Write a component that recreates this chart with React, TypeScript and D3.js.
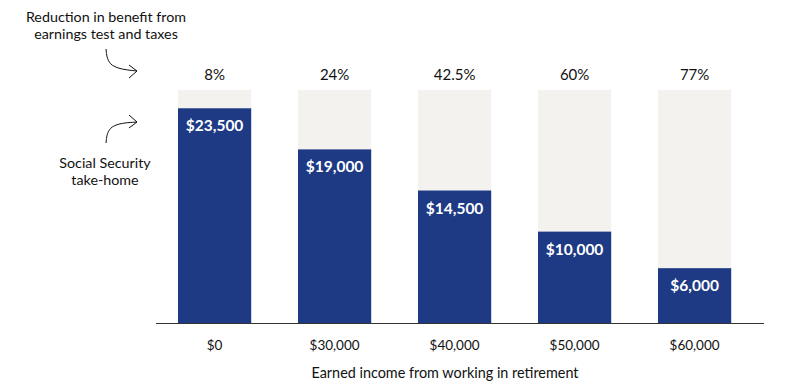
import * as d3 from 'd3';

const incomes = ['$0', '$30,000', '$40,000', '$50,000', '$60,000'];
const takeHome = [23500, 19000, 14500, 10000, 6000];
const reductions = ['8%', '24%', '42.5%', '60%', '77%'];
const fullBenefit = 25500;

const W = 800;
const H = 390;
const font = 'Lato, "Open Sans", sans-serif';
const blue = '#1e3a84';
const grey = '#f3f2ef';

export default function App() {
  const x = d3.scaleBand<string>()
    .domain(incomes)
    .range([154, 755.2])
    .paddingInner(0.39)
    .paddingOuter(0.2);

  const y = d3.scaleLinear()
    .domain([0, fullBenefit])
    .range([323, 90]);

  const curveDown = d3.line().curve(d3.curveBasis)([[106, 49], [108, 68], [137, 71]]);
  const curveUp = d3.line().curve(d3.curveBasis)([[106, 143], [108, 124], [137, 122]]);

  return (
    <svg width={W} height={H} style={{ position: 'absolute', left: 0, top: 0 }} fontFamily={font}>
      <rect width={W} height={H} fill="#fff" />

      {incomes.map((c, i) => (
        <g key={c}>
          <rect x={x(c)} y={y(fullBenefit)} width={x.bandwidth()} height={y(0) - y(fullBenefit)} fill={grey} />
          <rect x={x(c)} y={y(takeHome[i])} width={x.bandwidth()} height={y(0) - y(takeHome[i])} fill={blue} />
          <text x={x(c)! + x.bandwidth() / 2} y={y(takeHome[i]) + 23} textAnchor="middle"
            fill="#fff" fontSize={15.5} fontWeight={700}>
            {'$' + d3.format(',')(takeHome[i])}
          </text>
          <text x={x(c)! + x.bandwidth() / 2} y={80} textAnchor="middle" fill="#111" fontSize={15}>
            {reductions[i]}
          </text>
          <text x={x(c)! + x.bandwidth() / 2} y={350} textAnchor="middle" fill="#111" fontSize={13.5}>
            {c}
          </text>
        </g>
      ))}

      <line x1={156} x2={764} y1={323.5} y2={323.5} stroke="#333" strokeWidth={1} />

      <text x={445} y={378} textAnchor="middle" fill="#111" fontSize={14.4}>
        Earned income from working in retirement
      </text>

      <g fill="#111" fontSize={14.3} textAnchor="middle">
        <text x={106} y={22}>Reduction in benefit from</text>
        <text x={106} y={39}>earnings test and taxes</text>
        <text x={105} y={168}>Social Security</text>
        <text x={105} y={185}>take-home</text>
      </g>

      <g fill="none" stroke="#111" strokeWidth={1}>
        <path d={curveDown!} />
        <polyline points="129,65 137,71 129,78" />
        <path d={curveUp!} />
        <polyline points="129,115 137,122 129,128" />
      </g>
    </svg>
  );
}
